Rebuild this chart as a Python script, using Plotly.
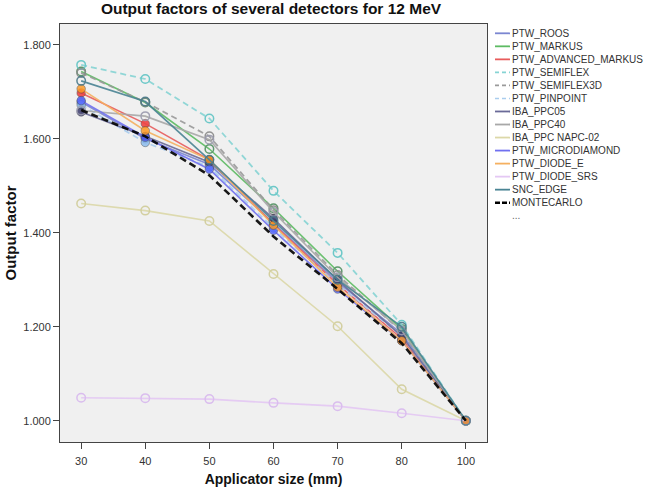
import plotly.graph_objects as go

# ---------------- data ----------------
applicator_sizes = ["30", "40", "50", "60", "70", "80", "100"]

ptw_roos             = [1.678, 1.600, 1.545, 1.420, 1.295, 1.185, 1.000]
ptw_markus           = [1.743, 1.677, 1.578, 1.452, 1.318, 1.195, 1.000]
ptw_advanced_markus  = [1.697, 1.632, 1.555, 1.418, 1.290, 1.175, 1.000]
ptw_semiflex         = [1.757, 1.727, 1.643, 1.489, 1.357, 1.204, 1.000]
ptw_semiflex3d       = [1.740, 1.678, 1.605, 1.448, 1.310, 1.190, 1.000]
ptw_pinpoint         = [1.672, 1.592, 1.540, 1.410, 1.290, 1.180, 1.000]
iba_ppc05            = [1.657, 1.605, 1.550, 1.430, 1.299, 1.180, 1.000]
iba_ppc40            = [1.660, 1.648, 1.598, 1.444, 1.305, 1.192, 1.000]
iba_ppc_napc02       = [1.462, 1.447, 1.425, 1.312, 1.201, 1.067, 1.000]
ptw_microdiamond     = [1.681, 1.603, 1.535, 1.405, 1.280, 1.170, 1.000]
ptw_diode_e          = [1.706, 1.617, 1.555, 1.416, 1.284, 1.170, 1.000]
ptw_diode_srs        = [1.049, 1.048, 1.046, 1.038, 1.031, 1.016, 1.000]
snc_edge             = [1.723, 1.679, 1.555, 1.425, 1.300, 1.200, 1.000]
montecarlo           = [1.661, 1.605, 1.522, 1.392, 1.280, 1.165, 1.000]

y_ticks = [1.0, 1.2, 1.4, 1.6, 1.8]
y_tick_labels = ["1.000", "1.200", "1.400", "1.600", "1.800"]

# name, values, line colour, marker colour, dash, filled marker?, show marker?
series = [
    ("PTW_ROOS", ptw_roos, "#7b86d1", "#6f7fd6", "solid", True, True),
    ("PTW_MARKUS", ptw_markus, "#5dbb63", "#4f8f5f", "solid", False, True),
    ("PTW_ADVANCED_MARKUS", ptw_advanced_markus, "#e85c5c", "#ee3333", "solid", True, True),
    ("PTW_SEMIFLEX", ptw_semiflex, "#86d4d4", "#5fc4c4", "dash", False, True),
    ("PTW_SEMIFLEX3D", ptw_semiflex3d, "#9a9a9a", "#8a8a8a", "dash", False, True),
    ("PTW_PINPOINT", ptw_pinpoint, "#aacdee", "#88bbee", "dash", True, True),
    ("IBA_PPC05", iba_ppc05, "#6a6a98", "#333366", "solid", True, True),
    ("IBA_PPC40", iba_ppc40, "#a8a8a8", "#9a9aae", "solid", False, True),
    ("IBA_PPC NAPC-02", iba_ppc_napc02, "#dcd8a8", "#d0cc98", "solid", False, True),
    ("PTW_MICRODIAMOND", ptw_microdiamond, "#7070f0", "#5566ff", "solid", True, True),
    ("PTW_DIODE_E", ptw_diode_e, "#f5b060", "#ff9922", "solid", True, True),
    ("PTW_DIODE_SRS", ptw_diode_srs, "#e4c8f4", "#d8b8ee", "solid", False, True),
    ("SNC_EDGE", snc_edge, "#4a8494", "#4a7a8a", "solid", False, True),
    ("MONTECARLO", montecarlo, "#000000", "#000000", "mc", False, False),
]

FONT = "Liberation Sans, Arial, sans-serif"

fig = go.Figure()
for name, vals, lc, mc, dash, filled, showm in series:
    if dash == "mc":
        line = dict(color=lc, width=2.6, dash="7px,4px")
    elif dash == "dash":
        line = dict(color=lc, width=1.8, dash="6px,4px")
    else:
        line = dict(color=lc, width=1.6)
    if showm:
        if filled:
            marker = dict(symbol="circle", size=8.5, color=mc, opacity=0.9,
                          line=dict(color="rgba(60,60,60,0.5)", width=1))
        else:
            marker = dict(symbol="circle-open", size=8.5, color=mc,
                          line=dict(color=mc, width=1.5))
        mode = "lines+markers"
    else:
        marker = None
        mode = "lines"
    fig.add_trace(go.Scatter(
        x=applicator_sizes, y=vals, name=name, mode=mode,
        line=line, marker=marker, opacity=0.9, showlegend=False,
    ))

# ---------------- custom legend (compact, as in the reference) ----------------
W, H = 646, 487
L, R, T, B = 60, W - 487, 24, H - 442
pw, ph = W - L - R, H - T - B

def px_x(p):
    return (p - L) / pw

def px_y(p):
    return (H - B - p) / ph

shapes = []
annotations = []
for i, (name, vals, lc, mc, dash, filled, showm) in enumerate(series):
    yp = 33.3 + 13.03 * i
    if dash == "mc":
        ld = dict(color=lc, width=2.6, dash="5px,2px")
    elif dash == "dash":
        ld = dict(color=lc, width=1.6, dash="4px,3px")
    else:
        ld = dict(color=lc, width=1.8)
    shapes.append(dict(type="line", xref="paper", yref="paper",
                       x0=px_x(495), x1=px_x(510), y0=px_y(yp), y1=px_y(yp),
                       line=ld))
    annotations.append(dict(text=name, xref="paper", yref="paper",
                            x=px_x(510), y=px_y(yp), xanchor="left", yanchor="middle",
                            showarrow=False, font=dict(family=FONT, size=10, color="#333333")))
annotations.append(dict(text="...", xref="paper", yref="paper",
                        x=px_x(510), y=px_y(216), xanchor="left", yanchor="middle",
                        showarrow=False, font=dict(family=FONT, size=10, color="#666666")))

fig.update_layout(
    width=W, height=H,
    margin=dict(l=L, r=R, t=T, b=B, autoexpand=False),
    paper_bgcolor="white",
    plot_bgcolor="#f0f0f0",
    showlegend=False,
    title=dict(text="<b>Output factors of several detectors for 12 MeV</b>",
               xref="container", x=271 / W, xanchor="center",
               yref="container", y=1 - 9 / H, yanchor="middle",
               font=dict(family=FONT, size=15.5, color="#111111")),
    xaxis=dict(
        type="category", categoryorder="array", categoryarray=applicator_sizes,
        range=[-0.33, 6.33], automargin=False,
        showgrid=False, zeroline=False,
        showline=True, linecolor="#444444", linewidth=1, mirror=True,
        ticks="outside", ticklen=6, tickcolor="#444444", ticklabelstandoff=3,
        tickfont=dict(family=FONT, size=11, color="#333333"),
        title=dict(text="<b>Applicator size (mm)</b>", standoff=7,
                   font=dict(family=FONT, size=14, color="#111111")),
    ),
    yaxis=dict(
        range=[0.9547, 1.844], automargin=False,
        tickvals=y_ticks, ticktext=y_tick_labels,
        showgrid=False, zeroline=False,
        showline=True, linecolor="#444444", linewidth=1, mirror=True,
        ticks="outside", ticklen=6, tickcolor="#444444",
        tickfont=dict(family=FONT, size=11, color="#333333"),
        title=dict(text="<b>Output factor</b>", standoff=3,
                   font=dict(family=FONT, size=15, color="#111111")),
    ),
    shapes=shapes,
    annotations=annotations,
)

fig.write_html(
    "out.html",
    config={"displayModeBar": False},
    post_script="document.documentElement.style.margin='0';"
                "document.body.style.margin='0';"
                "document.body.style.overflow='hidden';",
)
